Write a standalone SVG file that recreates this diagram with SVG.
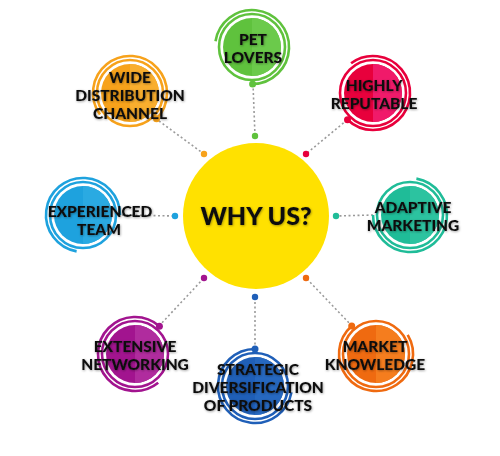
<svg xmlns="http://www.w3.org/2000/svg" width="500" height="456" viewBox="0 0 500 456">
<defs>
<filter id="sh" x="-10%" y="-30%" width="120%" height="160%">
<feDropShadow dx="0.6" dy="0.8" stdDeviation="0.8" flood-color="#000" flood-opacity="0.4"/>
</filter>
</defs>
<style>
.lbl{font-family:Lato,"Liberation Sans",sans-serif;font-weight:900;font-size:15.5px;fill:#111;text-anchor:middle;filter:url(#sh)}
.big{font-size:25px}
.ring{fill:none;stroke-width:2.6}
.con{fill:none;stroke:#9a9a9a;stroke-width:1.6;stroke-dasharray:2 2.5}
</style>
<rect width="500" height="456" fill="#fff"/>
<g id="connectors">
<path class="con" d="M253,84 L255,136"/>
<path class="con" d="M347,120 L306,154"/>
<path class="con" d="M159,121 L204,154"/>
<path class="con" d="M122,215 L175,216"/>
<path class="con" d="M373,215 L336,216"/>
<path class="con" d="M159,326 L204,278"/>
<path class="con" d="M255,349 L255,297"/>
<path class="con" d="M352,326 L306,278"/>
</g>
<g id="center">
<circle cx="256" cy="216" r="73" fill="#ffe100"/>
<text class="lbl big" x="256" y="225">WHY US?</text>
<circle cx="255" cy="136" r="3.2" fill="#5fc23d"/>
<circle cx="306" cy="154" r="3.2" fill="#e8003c"/>
<circle cx="204" cy="154" r="3.2" fill="#f7a21b"/>
<circle cx="175" cy="216" r="3.2" fill="#1ea2de"/>
<circle cx="336" cy="216" r="3.2" fill="#1fbc98"/>
<circle cx="204" cy="278" r="3.2" fill="#a2148f"/>
<circle cx="255" cy="297" r="3.2" fill="#1f5fb8"/>
<circle cx="306" cy="278" r="3.2" fill="#ef6a10"/>
</g>
<g id="pet-lovers">
<circle cx="252" cy="47" r="29" fill="#5fc23d"/>
<path d="M252,18 A29,29 0 0 1 252,76 Z" fill="#6bca4b"/>
<circle class="ring" cx="252" cy="47" r="33" stroke="#5fc23d"/>
<path class="ring" stroke="#5fc23d" d="M215.5,41.2 A37,37 0 1 1 252.6,84"/>
<circle cx="252.6" cy="84" r="3.5" fill="#5fc23d"/>
<text class="lbl" x="253" y="45">PET</text>
<text class="lbl" x="253" y="63">LOVERS</text>
</g>
<g id="highly-reputable">
<circle cx="373" cy="93" r="29" fill="#e8003c"/>
<path d="M373,64 A29,29 0 0 1 373,122 Z" fill="#f01a6a"/>
<circle class="ring" cx="373" cy="93" r="33" stroke="#e8003c"/>
<path class="ring" stroke="#e8003c" d="M351.1,63.2 A37,37 0 1 1 347.5,119.8"/>
<circle cx="347.5" cy="119.8" r="3.5" fill="#e8003c"/>
<text class="lbl" x="374" y="91">HIGHLY</text>
<text class="lbl" x="374" y="109">REPUTABLE</text>
</g>
<g id="wide-distribution">
<circle cx="130" cy="93" r="29" fill="#f7a21b"/>
<path d="M130,64 A29,29 0 0 1 130,122 Z" fill="#f9ae2e"/>
<circle class="ring" cx="130" cy="93" r="33" stroke="#f7a21b"/>
<path class="ring" stroke="#f7a21b" d="M100,114.6 A37,37 0 1 1 156.5,118.8"/>
<circle cx="156.5" cy="118.8" r="3.5" fill="#f7a21b"/>
<text class="lbl" x="130" y="83">WIDE</text>
<text class="lbl" x="130" y="101">DISTRIBUTION</text>
<text class="lbl" x="130" y="119">CHANNEL</text>
</g>
<g id="experienced-team">
<circle cx="83" cy="215" r="29" fill="#1ea2de"/>
<path d="M83,186 A29,29 0 0 1 83,244 Z" fill="#2aaae2"/>
<circle class="ring" cx="83" cy="215" r="33" stroke="#1ea2de"/>
<path class="ring" stroke="#1ea2de" d="M76.6,251.4 A37,37 0 1 1 120,215"/>
<text class="lbl" x="100" y="217">EXPERIENCED</text>
<text class="lbl" x="99" y="235">TEAM</text>
</g>
<g id="adaptive-marketing">
<circle cx="410" cy="215" r="29" fill="#1fbc98"/>
<path d="M410,186 A29,29 0 0 1 410,244 Z" fill="#2cc3a0"/>
<circle class="ring" cx="410" cy="215" r="33" stroke="#1fbc98"/>
<path class="ring" stroke="#1fbc98" d="M416.4,178.6 A37,37 0 1 1 373,215"/>
<text class="lbl" x="413" y="213">ADAPTIVE</text>
<text class="lbl" x="413" y="231">MARKETING</text>
</g>
<g id="extensive-networking">
<circle cx="135" cy="354" r="29" fill="#a2148f"/>
<path d="M135,325 A29,29 0 0 1 135,383 Z" fill="#b02c9e"/>
<circle class="ring" cx="135" cy="354" r="33" stroke="#a2148f"/>
<path class="ring" stroke="#a2148f" d="M158.2,382.8 A37,37 0 1 1 159.4,326.2"/>
<circle cx="159.4" cy="326.2" r="3.5" fill="#a2148f"/>
<text class="lbl" x="135" y="352">EXTENSIVE</text>
<text class="lbl" x="135" y="370">NETWORKING</text>
</g>
<g id="strategic-diversification">
<circle cx="255" cy="386" r="29" fill="#1f5fb8"/>
<path d="M255,357 A29,29 0 0 1 255,415 Z" fill="#2668c0"/>
<circle class="ring" cx="255" cy="386" r="33" stroke="#1f5fb8"/>
<path class="ring" stroke="#1f5fb8" d="M291.4,392.4 A37,37 0 1 1 255,349"/>
<circle cx="255" cy="349" r="3.5" fill="#1f5fb8"/>
<text class="lbl" x="258" y="375">STRATEGIC</text>
<text class="lbl" x="258" y="393">DIVERSIFICATION</text>
<text class="lbl" x="258" y="411">OF PRODUCTS</text>
</g>
<g id="market-knowledge">
<circle cx="376" cy="354" r="29" fill="#ef6a10"/>
<path d="M376,325 A29,29 0 0 1 376,383 Z" fill="#f57d1e"/>
<circle class="ring" cx="376" cy="354" r="33" stroke="#ef6a10"/>
<path class="ring" stroke="#ef6a10" d="M407.7,334.9 A37,37 0 1 1 351.7,326.1"/>
<circle cx="351.7" cy="326.1" r="3.5" fill="#ef6a10"/>
<text class="lbl" x="375" y="352">MARKET</text>
<text class="lbl" x="375" y="370">KNOWLEDGE</text>
</g>
</svg>
